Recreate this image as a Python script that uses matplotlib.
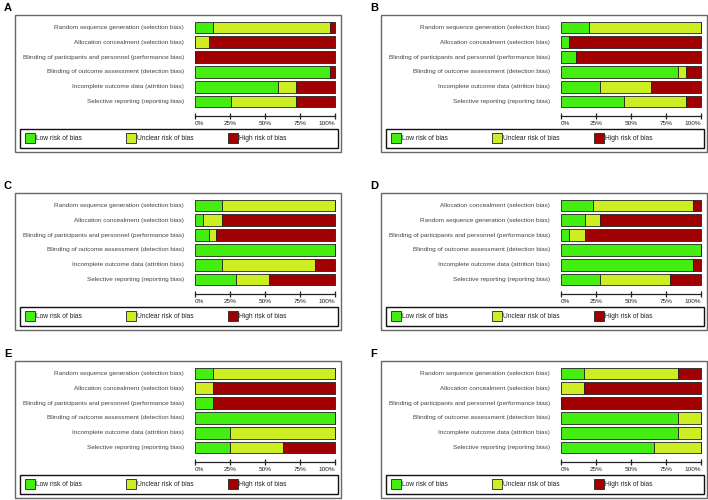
import matplotlib
matplotlib.use("Agg")
import matplotlib.pyplot as plt
from matplotlib.patches import Rectangle
import numpy as np

plt.rcParams['font.family'] = ['Liberation Sans', 'DejaVu Sans']

# risk of bias domains
cats = ['Random sequence generation (selection bias)',
        'Allocation concealment (selection bias)',
        'Blinding of participants and personnel (performance bias)',
        'Blinding of outcome assessment (detection bias)',
        'Incomplete outcome data (attrition bias)',
        'Selective reporting (reporting bias)']
cats_d = [cats[1], cats[0]] + cats[2:]

# percentages: low / unclear / high
low_a = [13, 0, 0, 96.4, 59.5, 25.7]
unc_a = [83.5, 10, 0, 0, 12.5, 46.3]
high_a = [3.5, 90, 100, 3.6, 28, 28]

low_b = [20, 6, 11, 83.7, 28, 45]
unc_b = [80, 0, 0, 5.3, 36, 44]
high_b = [0, 94, 89, 11, 36, 11]

low_c = [19.5, 6, 10, 100, 19.5, 29]
unc_c = [80.5, 13.5, 4.8, 0, 66.5, 24]
high_c = [0, 80.5, 85.2, 0, 14, 47]

low_d = [23, 17, 6, 100, 94.5, 28]
unc_d = [71.5, 11, 11, 0, 0, 50]
high_d = [5.5, 72, 83, 0, 5.5, 22]

low_e = [12.5, 0, 12.5, 100, 25, 25]
unc_e = [87.5, 12.5, 0, 0, 75, 37.5]
high_e = [0, 87.5, 87.5, 0, 0, 37.5]

low_f = [16.7, 0, 0, 83.3, 83.3, 66.7]
unc_f = [66.6, 16.7, 0, 16.7, 16.7, 33.3]
high_f = [16.7, 83.3, 100, 0, 0, 0]

legend_labels = ['Low risk of bias', 'Unclear risk of bias', 'High risk of bias']
colors = ['#44ee11', '#ccee22', '#a00000']
ticks = [0, 25, 50, 75, 100]
tick_labels = ['0%', '25%', '50%', '75%', '100%']

panels = [('A', cats, low_a, unc_a, high_a),
          ('B', cats, low_b, unc_b, high_b),
          ('C', cats, low_c, unc_c, high_c),
          ('D', cats_d, low_d, unc_d, high_d),
          ('E', cats, low_e, unc_e, high_e),
          ('F', cats, low_f, unc_f, high_f)]

W, H = 708, 500
fig = plt.figure(figsize=(W / 100, H / 100), dpi=100)


def fbox(x, y, w, h):
    # pixel box (top-left origin) -> figure fraction
    return [x / W, 1 - (y + h) / H, w / W, h / H]


col_x = [15, 381]
row_y = [15, 193, 361]
FH = 137  # frame height in px

for i, (letter, labels, low, unc, high) in enumerate(panels):
    x0 = col_x[i % 2]
    y0 = row_y[i // 2]

    # panel letter and outer frame
    fig.text((x0 - 11) / W, 1 - (y0 - 7) / H, letter, fontsize=8, fontweight='bold',
             ha='left', va='center')
    fig.patches.append(Rectangle(((x0) / W, 1 - (y0 + FH) / H), 326 / W, FH / H,
                                 transform=fig.transFigure, fill=False,
                                 edgecolor='#666666', lw=1.0))

    # bars
    ax = fig.add_axes(fbox(x0 + 180, y0 + 5.1, 140, 95.9))
    y = np.arange(len(labels))
    left = np.zeros(len(labels))
    for vals, c in zip([low, unc, high], colors):
        vals = np.array(vals)
        ax.barh(y, vals, left=left, height=0.8, color=c, edgecolor='#222222',
                lw=0.6, clip_on=False)
        left += vals
    ax.set_xlim(0, 100)
    ax.set_ylim(5.98, -0.5)
    ax.set_yticks([])
    for lab, yy in zip(labels, y):
        ax.text(-11 / 1.4, yy, lab, ha='right', va='center', fontsize=4.6,
                color='#444444')
    for s in ['top', 'left', 'right']:
        ax.spines[s].set_visible(False)
    ax.spines['bottom'].set_color('#222222')
    ax.spines['bottom'].set_linewidth(0.9)
    ax.set_xticks(ticks)
    ax.set_xticklabels(tick_labels)
    ax.tick_params(axis='x', direction='inout', length=4.5, width=0.9,
                   labelsize=4.6, pad=1, colors='#222222')
    tl = ax.get_xticklabels()
    tl[0].set_ha('left')
    tl[-1].set_ha('right')

    # legend box
    fig.patches.append(Rectangle(((x0 + 5) / W, 1 - (y0 + 133) / H), 318 / W, 19 / H,
                                 transform=fig.transFigure, fill=False,
                                 edgecolor='#111111', lw=1.0))
    for dx, lab, c in zip([10, 111, 213], legend_labels, colors):
        fig.patches.append(Rectangle(((x0 + dx) / W, 1 - (y0 + 128) / H), 10 / W, 10 / H,
                                     transform=fig.transFigure, facecolor=c,
                                     edgecolor='#222222', lw=0.6))
        fig.text((x0 + dx + 11) / W, 1 - (y0 + 123) / H, lab, fontsize=4.8,
                 color='#222222', ha='left', va='center')

fig.savefig('out.png', dpi=100)
